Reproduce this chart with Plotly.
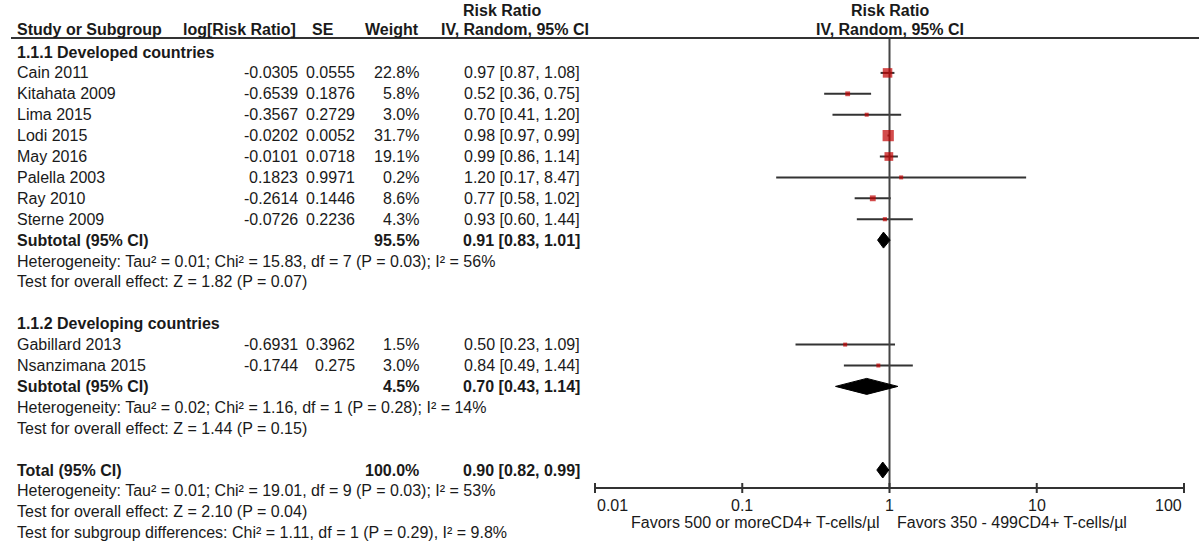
import math
import plotly.graph_objects as go

# ---- data ----
dev_names = ['Cain 2011', 'Kitahata 2009', 'Lima 2015', 'Lodi 2015',
             'May 2016', 'Palella 2003', 'Ray 2010', 'Sterne 2009']
dev_logrr = [-0.0305, -0.6539, -0.3567, -0.0202, -0.0101, 0.1823, -0.2614, -0.0726]
dev_se = [0.0555, 0.1876, 0.2729, 0.0052, 0.0718, 0.9971, 0.1446, 0.2236]
dev_weight = [22.8, 5.8, 3.0, 31.7, 19.1, 0.2, 8.6, 4.3]
dev_rr = [0.97, 0.52, 0.70, 0.98, 0.99, 1.20, 0.77, 0.93]
dev_lo = [0.87, 0.36, 0.41, 0.97, 0.86, 0.17, 0.58, 0.60]
dev_hi = [1.08, 0.75, 1.20, 0.99, 1.14, 8.47, 1.02, 1.44]

dvg_names = ['Gabillard 2013', 'Nsanzimana 2015']
dvg_logrr = [-0.6931, -0.1744]
dvg_se = [0.3962, 0.275]
dvg_weight = [1.5, 3.0]
dvg_rr = [0.50, 0.84]
dvg_lo = [0.23, 0.49]
dvg_hi = [1.09, 1.44]

# pooled estimates: weight, rr, lo, hi
sub1 = [95.5, 0.91, 0.83, 1.01]
sub2 = [4.5, 0.70, 0.43, 1.14]
total = [100.0, 0.90, 0.82, 0.99]

het1 = 'Heterogeneity: Tau² = 0.01; Chi² = 15.83, df = 7 (P = 0.03); I² = 56%'
test1 = 'Test for overall effect: Z = 1.82 (P = 0.07)'
het2 = 'Heterogeneity: Tau² = 0.02; Chi² = 1.16, df = 1 (P = 0.28); I² = 14%'
test2 = 'Test for overall effect: Z = 1.44 (P = 0.15)'
het_tot = 'Heterogeneity: Tau² = 0.01; Chi² = 19.01, df = 9 (P = 0.03); I² = 53%'
test_tot = 'Test for overall effect: Z = 2.10 (P = 0.04)'
test_sub = 'Test for subgroup differences: Chi² = 1.11, df = 1 (P = 0.29), I² = 9.8%'

tick_vals = [0.01, 0.1, 1, 10, 100]
tick_text = ['0.01', '0.1', '1', '10', '100']
favors_left = 'Favors 500 or moreCD4+ T-cells/µl'
favors_right = 'Favors 350 - 499CD4+ T-cells/µl'

# ---- layout helpers (page pixels) ----
W, H = 1199, 546
Y0, DY = 52, 20.9
def row_y(i):
    return Y0 + DY * i

RULE_Y = 38
AXIS_Y = 488
X_STUDY, X_LOG, X_SE, X_WT, X_CI = 15, 300, 357, 421, 582
TXT = '#1a1a1a'
LINE = '#333333'

def px(x):
    return x / W

def ci_text(rr, lo, hi):
    return f'{rr:.2f} [{lo:.2f}, {hi:.2f}]'

ann = []
def text(x, y, s, anchor='left', bold=False, xref='paper', size=16):
    if bold:
        s = f'<b>{s}</b>'
    ann.append(dict(x=x, y=y, xref=xref, yref='y', text=s, showarrow=False,
                    xanchor=anchor, yanchor='middle', font=dict(size=size, color=TXT)))

# headers
text(px(502), 10, 'Risk Ratio', 'center', True)
text(px(X_STUDY), 29, 'Study or Subgroup', 'left', True)
text(px(X_LOG - 2), 29, 'log[Risk Ratio]', 'right', True)
text(px(336), 29, 'SE', 'right', True)
text(px(X_WT), 29, 'Weight', 'right', True)
text(px(591), 29, 'IV, Random, 95% CI', 'right', True)
text(0, 10, 'Risk Ratio', 'center', True, xref='x')
text(0, 29, 'IV, Random, 95% CI', 'center', True, xref='x')

study_rows, study_rr, study_lo, study_hi, study_w = [], [], [], [], []

def add_group(start, title, names, logrr, se, weight, rr, lo, hi, sub, het, test):
    text(px(X_STUDY), row_y(start), title, bold=True)
    for k, name in enumerate(names):
        y = row_y(start + 1 + k)
        text(px(X_STUDY), y, name)
        text(px(X_LOG), y, str(logrr[k]), 'right')
        text(px(X_SE), y, str(se[k]), 'right')
        text(px(X_WT), y, f'{weight[k]:.1f}%', 'right')
        text(px(X_CI), y, ci_text(rr[k], lo[k], hi[k]), 'right')
        study_rows.append(y)
        study_rr.append(rr[k])
        study_lo.append(lo[k])
        study_hi.append(hi[k])
        study_w.append(weight[k])
    r = start + 1 + len(names)
    text(px(X_STUDY), row_y(r), 'Subtotal (95% CI)', bold=True)
    text(px(X_WT), row_y(r), f'{sub[0]:.1f}%', 'right', True)
    text(px(X_CI), row_y(r), ci_text(*sub[1:]), 'right', True)
    text(px(X_STUDY), row_y(r + 1), het)
    text(px(X_STUDY), row_y(r + 2), test)
    return r

r1 = add_group(0, '1.1.1 Developed countries', dev_names, dev_logrr, dev_se,
               dev_weight, dev_rr, dev_lo, dev_hi, sub1, het1, test1)
r2 = add_group(r1 + 4, '1.1.2 Developing countries', dvg_names, dvg_logrr, dvg_se,
               dvg_weight, dvg_rr, dvg_lo, dvg_hi, sub2, het2, test2)
rt = r2 + 4
text(px(X_STUDY), row_y(rt), 'Total (95% CI)', bold=True)
text(px(X_WT), row_y(rt), f'{total[0]:.1f}%', 'right', True)
text(px(X_CI), row_y(rt), ci_text(*total[1:]), 'right', True)
text(px(X_STUDY), row_y(rt + 1), het_tot)
text(px(X_STUDY), row_y(rt + 2), test_tot)
text(px(X_STUDY), row_y(rt + 3), test_sub)

# axis tick labels and favours captions
for k, (v, t) in enumerate(zip(tick_vals, tick_text)):
    anchor = 'left' if k == 0 else ('right' if k == len(tick_vals) - 1 else 'center')
    text(math.log10(v), 505, t, anchor, xref='x')
text(math.log10(1) - 0.05, 522, favors_left, 'right', xref='x')
text(math.log10(1) + 0.04, 522, favors_right, 'left', xref='x')

fig = go.Figure()

# CI whiskers
cx, cy = [], []
for y, lo, hi in zip(study_rows, study_lo, study_hi):
    cx += [lo, hi, None]
    cy += [y, y, None]
fig.add_trace(go.Scatter(x=cx, y=cy, mode='lines', line=dict(color=LINE, width=2),
                         hoverinfo='skip'))

# line of no effect
fig.add_trace(go.Scatter(x=[1, 1], y=[RULE_Y, AXIS_Y], mode='lines',
                         line=dict(color='#444444', width=2), hoverinfo='skip'))

# study squares sized by weight
fig.add_trace(go.Scatter(
    x=study_rr, y=study_rows, mode='markers',
    marker=dict(symbol='square', color='#c00000',
                size=[max(4, 2 * math.sqrt(w)) for w in study_w], line=dict(width=0)),
    hoverinfo='skip'))

# pooled diamonds
for r, est in [(r1, sub1), (r2, sub2), (rt, total)]:
    y = row_y(r)
    h = 8
    fig.add_trace(go.Scatter(
        x=[est[2], est[1], est[3], est[1], est[2]],
        y=[y, y - h, y, y + h, y],
        mode='lines', fill='toself', fillcolor='black',
        line=dict(color='black', width=1), hoverinfo='skip'))

# x axis line and ticks
ax, ay = [tick_vals[0], tick_vals[-1], None], [AXIS_Y, AXIS_Y, None]
for v in tick_vals:
    ax += [v, v, None]
    ay += [AXIS_Y - 5, AXIS_Y + 5, None]
fig.add_trace(go.Scatter(x=ax, y=ay, mode='lines', line=dict(color=LINE, width=2),
                         hoverinfo='skip'))

# header rule
fig.add_shape(type='line', xref='paper', yref='y', x0=px(11), x1=1, y0=RULE_Y, y1=RULE_Y,
              line=dict(color=LINE, width=2))

# log axis pixel mapping: 0.01 at x=595, 100 at x=1184
dec = (1184 - 595) / 4
fig.update_layout(
    width=W, height=H,
    margin=dict(l=0, r=0, t=0, b=0),
    paper_bgcolor='white', plot_bgcolor='white',
    showlegend=False,
    font=dict(family='Liberation Sans, Arial, sans-serif', size=16, color=TXT),
    xaxis=dict(type='log', range=[-2 - 595 / dec, 2 + (W - 1184) / dec],
               showgrid=False, zeroline=False, showticklabels=False, ticks='',
               fixedrange=True),
    yaxis=dict(range=[H, 0], showgrid=False, zeroline=False, showticklabels=False,
               ticks='', fixedrange=True),
    annotations=ann,
)

# drop the page's default body margin so the figure sits at the window corner
fig.write_html('out.html', config={'displayModeBar': False},
               post_script="document.body.style.margin='0px';document.body.style.overflow='hidden';")
